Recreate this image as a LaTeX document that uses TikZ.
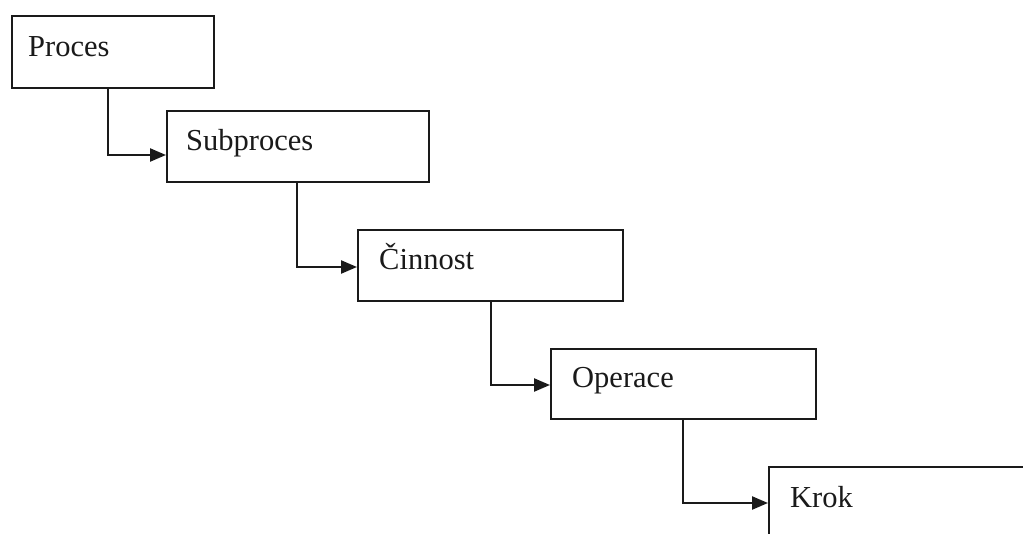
\documentclass[tikz,border=0pt]{standalone}
\usepackage{fontspec}
\setmainfont{Liberation Serif}
\usetikzlibrary{arrows.meta}
\definecolor{ink}{HTML}{1A1A1A}
\begin{document}
\begin{tikzpicture}[x=1pt,y=-1pt,
  levelbox/.style={draw=ink,line width=2.3pt,fill=white},
  levellabel/.style={anchor=base west,inner sep=0pt,text=ink,font=\fontsize{30.5}{36}\selectfont},
  link/.style={draw=ink,line width=2.3pt,-{Triangle[length=16pt,width=13pt]}}]
  \useasboundingbox (0,0) rectangle (1023,533);
  \clip (0,0) rectangle (1023,533);
  \fill[white] (0,0) rectangle (1023,533);

  % boxes of the hierarchy
  \node[levelbox,anchor=north west,minimum width=202pt,minimum height=72pt] (proces) at (11,15) {};
  \node[levelbox,anchor=north west,minimum width=262pt,minimum height=71pt] (subproces) at (166,110) {};
  \node[levelbox,anchor=north west,minimum width=265pt,minimum height=71pt] (cinnost) at (357,229) {};
  \node[levelbox,anchor=north west,minimum width=265pt,minimum height=70pt] (operace) at (550,348) {};
  \node[levelbox,anchor=north west,minimum width=290pt,minimum height=90pt] (krok) at (768,466) {};

  % labels
  \node[levellabel] (tproces) at (28,56) {Proces};
  \node[levellabel] (tsubproces) at (186,150) {Subproces};
  \node[levellabel] (tcinnost) at (379,269) {Činnost};
  \node[levellabel] (toperace) at (572,387) {Operace};
  \node[levellabel] (tkrok) at (790,507) {Krok};

  % elbow connectors
  \coordinate (k1) at (108,155);
  \coordinate (k2) at (297,267);
  \coordinate (k3) at (491,385);
  \coordinate (k4) at (683,503);
  \draw[link] (proces.south -| k1) |- (subproces.west |- k1);
  \draw[link] (subproces.south -| k2) |- (cinnost.west |- k2);
  \draw[link] (cinnost.south -| k3) |- (operace.west |- k3);
  \draw[link] (operace.south -| k4) |- (krok.west |- k4);
\end{tikzpicture}
\end{document}
